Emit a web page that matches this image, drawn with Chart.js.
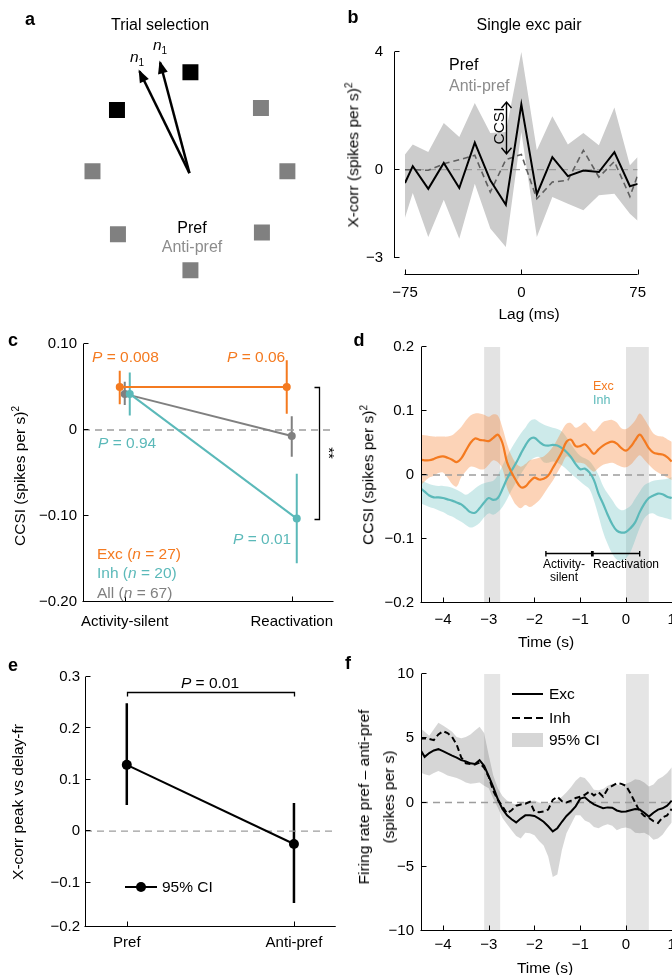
<!DOCTYPE html>
<html>
<head>
<meta charset="utf-8">
<title>CCSI figure</title>
<script src="https://cdn.jsdelivr.net/npm/chart.js@4.4.1/dist/chart.umd.min.js"></script>
<style>
  html, body { margin: 0; padding: 0; background: #fff; }
  body { position: relative; width: 672px; height: 975px; overflow: hidden;
         font-family: "Liberation Sans", Arial, Helvetica, sans-serif; color: #000; }
  canvas { position: absolute; }
  .t { position: absolute; white-space: nowrap; font-size: 15.5px; line-height: 1; }
  .t sup { font-size: 10px; vertical-align: 6px; line-height: 0; }
  .t sub { font-size: 10px; vertical-align: -4px; line-height: 0; }
  .lbl { font-weight: bold; font-size: 18px; }
  .k { position: absolute; }
</style>
</head>
<body>
<canvas id="pa"></canvas>
<canvas id="pb"></canvas>
<canvas id="pc"></canvas>
<canvas id="pd"></canvas>
<canvas id="pe"></canvas>
<canvas id="pf"></canvas>
<script>
// ---- a: targets on a circle, two arrows
const targetX = [0.01, 0.73, 1.0, 0.74, 0.01, -0.73, -0.99, -0.74];
const targetY = [1.04, 0.67, 0.02, -0.61, -1.0, -0.63, 0.02, 0.65];
const targetPref = [1, 0, 0, 0, 0, 0, 0, 1];
const arrowTipX = [-0.51, -0.30];
const arrowTipY = [1.05, 1.14];

// ---- b: single exc pair
const lagMs = [-75, -70, -60, -50, -40, -30, -20, -10, 0, 10, 20, 30, 40, 50, 60, 70, 75];
const prefXcorr = [-0.45, 0.12, -0.65, 0.23, -0.62, 0.92, -0.36, -1.19, 2.22, -0.84, 0.43, -0.22, -0.03, -0.08, 0.60, -0.56, -0.48];
const antiXcorr = [0, 0, -0.02, 0.20, 0.34, 0.49, -0.76, 0.34, 0.52, -0.99, -0.42, -0.36, 0.66, -0.25, 0.28, -0.91, -0.19];
const prefUpper = [0.52, 0.86, 0.60, 1.59, 1.11, 2.27, 1.25, 1.28, 4.0, 0.66, 1.82, 0.86, 1.25, 0.83, 2.11, 0.15, 0.43];
const prefLower = [-1.63, -0.79, -2.29, -1.02, -2.35, -0.48, -2.0, -2.63, 1.28, -2.29, -0.93, -1.16, -1.38, -0.87, -0.82, -1.5, -1.73];
const ccsiLag = -10, ccsiFrom = 0.54, ccsiTo = 2.30;
const bXTicks = [-75, 0, 75], bXLabels = ['−75', '0', '75'];
const bYTicks = [-3, 0, 4], bYLabels = ['−3', '0', '4'];

// ---- c: CCSI by epoch
const epochCats = ['Activity-silent', 'Reactivation'];
const excMean = [0.050, 0.050], excLo = [0.030, 0.019], excHi = [0.069, 0.081];
const inhMean = [0.042, -0.103], inhLo = [0.017, -0.155], inhHi = [0.067, -0.051];
const allMean = [0.042, -0.007], allLo = [0.029, -0.031], allHi = [0.056, 0.016];
const jitter = { exc: -0.03, all: 0, inh: 0.03 };
const starsX = 2.163, starsFrom = 0.050, starsTo = -0.103;
const cYTicks = [-0.2, -0.1, 0, 0.1], cYLabels = ['−0.20', '−0.10', '0', '0.10'];

// ---- d, f: time courses (s)
const timeS = [-4.5, -4.4, -4.3, -4.2, -4.1, -4.0, -3.9, -3.8, -3.7, -3.6,
  -3.5, -3.4, -3.3, -3.2, -3.1, -3.0, -2.9, -2.8, -2.7, -2.6,
  -2.5, -2.4, -2.3, -2.2, -2.1, -2.0, -1.9, -1.8, -1.7, -1.6,
  -1.5, -1.4, -1.3, -1.2, -1.1, -1.0, -0.9, -0.8, -0.7, -0.6,
  -0.5, -0.4, -0.3, -0.2, -0.1, 0.0, 0.1, 0.2, 0.3, 0.4,
  0.5, 0.6, 0.7, 0.8, 0.9, 1.0];
const excCcsi = [0.024, 0.023, 0.023, 0.025, 0.028, 0.029, 0.027, 0.024, 0.020, 0.026,
  0.038, 0.050, 0.057, 0.055, 0.054, 0.053, 0.058, 0.063, 0.050, 0.020,
  0.004, -0.009, -0.019, -0.018, -0.010, -0.004, -0.007, -0.006, -0.001, 0.011,
  0.023, 0.036, 0.052, 0.055, 0.045, 0.045, 0.048, 0.041, 0.033, 0.040,
  0.046, 0.050, 0.052, 0.049, 0.042, 0.038, 0.044, 0.054, 0.063, 0.054,
  0.042, 0.035, 0.033, 0.032, 0.028, 0.021];
const excCcsiHi = [0.063, 0.062, 0.061, 0.060, 0.060, 0.060, 0.060, 0.062, 0.068, 0.075,
  0.085, 0.093, 0.096, 0.096, 0.094, 0.091, 0.095, 0.093, 0.074, 0.049,
  0.030, 0.018, 0.013, 0.017, 0.023, 0.025, 0.027, 0.029, 0.035, 0.044,
  0.056, 0.069, 0.080, 0.081, 0.074, 0.077, 0.082, 0.075, 0.068, 0.075,
  0.083, 0.085, 0.086, 0.082, 0.073, 0.072, 0.077, 0.085, 0.096, 0.088,
  0.076, 0.065, 0.061, 0.060, 0.056, 0.052];
const excCcsiLo = [-0.017, -0.010, -0.004, -0.001, 0.003, 0.004, -0.004, -0.014, -0.018, -0.003,
  0.006, 0.013, 0.012, 0.009, 0.009, 0.016, 0.023, 0.020, 0.010, -0.020,
  -0.035, -0.047, -0.052, -0.047, -0.050, -0.046, -0.040, -0.030, -0.019, -0.009,
  0.004, 0.016, 0.029, 0.025, 0.020, 0.019, 0.017, 0.010, 0.005, 0.011,
  0.016, 0.018, 0.019, 0.016, 0.013, 0.012, 0.016, 0.024, 0.031, 0.024,
  0.016, 0.009, 0.004, 0.000, -0.004, -0.008];
const inhCcsi = [-0.020, -0.026, -0.032, -0.035, -0.035, -0.036, -0.038, -0.040, -0.043, -0.046,
  -0.052, -0.058, -0.059, -0.052, -0.043, -0.036, -0.039, -0.036, -0.022, -0.006,
  0.007, 0.019, 0.033, 0.046, 0.056, 0.058, 0.052, 0.047, 0.046, 0.047,
  0.046, 0.042, 0.036, 0.028, 0.017, 0.009, 0.010, 0.004, -0.008, -0.029,
  -0.045, -0.062, -0.077, -0.087, -0.090, -0.089, -0.083, -0.074, -0.058, -0.045,
  -0.036, -0.032, -0.029, -0.030, -0.034, -0.036];
const inhCcsiHi = [-0.008, -0.011, -0.014, -0.016, -0.017, -0.017, -0.018, -0.020, -0.023, -0.027,
  -0.031, -0.027, -0.021, -0.016, -0.013, -0.011, -0.009, 0.000, 0.015, 0.029,
  0.042, 0.054, 0.065, 0.074, 0.084, 0.087, 0.083, 0.079, 0.076, 0.074,
  0.072, 0.068, 0.059, 0.048, 0.038, 0.030, 0.026, 0.022, 0.013, 0.000,
  -0.017, -0.029, -0.039, -0.050, -0.055, -0.053, -0.048, -0.037, -0.026, -0.016,
  -0.012, -0.009, -0.008, -0.007, -0.006, -0.003];
const inhCcsiLo = [-0.044, -0.047, -0.050, -0.052, -0.055, -0.058, -0.062, -0.065, -0.069, -0.073,
  -0.078, -0.082, -0.080, -0.075, -0.066, -0.060, -0.062, -0.058, -0.050, -0.038,
  -0.024, -0.011, 0.001, 0.012, 0.022, 0.027, 0.028, 0.020, 0.019, 0.021,
  0.019, 0.015, 0.009, 0.002, -0.004, -0.010, -0.016, -0.022, -0.040, -0.064,
  -0.089, -0.108, -0.123, -0.132, -0.134, -0.130, -0.120, -0.102, -0.083, -0.068,
  -0.061, -0.060, -0.064, -0.066, -0.068, -0.070];
const epochStart = [-3.1, 0.0], epochEnd = [-2.75, 0.5];
const windowStart = [-1.75, -0.72], windowEnd = [-0.75, 0.30], windowY = -0.122;
const timeTicks = [-4, -3, -2, -1, 0, 1], timeLabels = ['−4', '−3', '−2', '−1', '0', '1'];
const dYTicks = [-0.2, -0.1, 0, 0.1, 0.2], dYLabels = ['−0.2', '−0.1', '0', '0.1', '0.2'];

const excRate = [4.15, 3.55, 3.85, 4.05, 4.15, 4.0, 3.82, 3.65, 3.5, 3.3,
  3.2, 3.05, 3.0, 3.3, 2.85, 2.05, 1.2, 0.25, -0.5, -1.0,
  -1.3, -1.55, -1.25, -1.0, -1.0, -1.05, -1.25, -1.5, -1.85, -2.25,
  -2.0, -1.5, -1.05, -0.7, -0.3, 0.3, 0.4, 0.1, -0.15, -0.3,
  -0.45, -0.38, -0.4, -0.62, -0.72, -0.7, -0.6, -0.5, -0.55, -0.8,
  -1.1, -0.8, -0.55, -0.45, -0.25, 0.15];
const inhRate = [4.95, 5.0, 4.95, 4.85, 5.3, 5.55, 5.4, 5.1, 4.5, 3.5,
  3.05, 3.0, 2.95, 3.1, 2.7, 2.0, 0.9, 0.2, -0.3, -0.85,
  -0.6, -0.25, -0.15, -0.1, 0.05, -0.7, -0.75, -0.7, -0.55, 0.2,
  0.45, 0.1, 0.0, 0.15, 0.35, 0.45, 0.6, 0.85, 0.55, 0.8,
  0.45, 1.05, 1.3, 1.5, 1.45, 1.3, 0.7, 0.0, -0.7, -1.05,
  -1.2, -1.45, -1.6, -1.15, -1.0, -0.5];
const rateCiHi = [5.8, 5.5, 5.2, 5.7, 6.2, 6.0, 5.75, 5.5, 5.1, 5.0,
  5.1, 5.3, 5.6, 5.9, 5.4, 3.7, 2.1, 1.1, 0.5, 0.15,
  -0.05, -0.15, -0.05, 0.05, 0.1, 0.15, 0.0, -0.05, -0.05, 0.05,
  0.2, 0.45, 0.8, 1.2, 1.7, 2.0, 1.9, 1.5, 1.0, 0.95,
  1.05, 1.3, 1.45, 1.4, 1.3, 1.45, 1.6, 1.8, 1.75, 1.55,
  1.25, 1.4, 1.8, 2.0, 2.3, 2.75];
const rateCiLo = [2.35, 2.2, 2.1, 2.3, 2.45, 2.3, 2.1, 2.0, 1.9, 1.75,
  1.55, 1.45, 1.5, 1.55, 1.3, 1.1, 0.3, -0.4, -1.2, -1.7,
  -2.15, -2.6, -2.8, -2.35, -2.4, -2.55, -3.0, -3.35, -4.2, -5.8,
  -5.6, -3.7, -2.4, -1.7, -1.0, -1.0, -1.4, -1.55, -1.9, -2.0,
  -1.8, -1.7, -1.8, -2.15, -2.0, -1.95, -2.05, -2.35, -2.4, -2.35,
  -2.55, -2.9, -2.8, -2.5, -2.0, -1.55];
const fYTicks = [-10, -5, 0, 5, 10], fYLabels = ['−10', '−5', '0', '5', '10'];

// ---- e: x-corr peak vs delay firing rate
const prefCats = ['Pref', 'Anti-pref'];
const peakMean = [0.129, -0.025], peakLo = [0.051, -0.140], peakHi = [0.249, 0.055];
const pBarY = 0.271, pBarDrop = 0.262;
const eYTicks = [-0.186, -0.1, 0, 0.1, 0.2, 0.3], eYLabels = ['−0.2', '−0.1', '0', '0.1', '0.2', '0.3'];

const ORANGE = '#f47a20', TEAL = '#5bb9b9', GREY = '#808080', PALE = '#8c8c8c', ZERO = '#9d9d9d';
const FONT = '"Liberation Sans", Arial, Helvetica, sans-serif';

Chart.defaults.font.family = FONT;
Chart.defaults.font.size = 15;
Chart.defaults.color = '#000';
Chart.defaults.animation = false;
Chart.defaults.responsive = false;
Chart.defaults.plugins.legend.display = false;
Chart.defaults.plugins.tooltip.enabled = false;

const xy = (xs, ys) => xs.map((x, i) => ({ x, y: ys[i] }));

// canvas box and wanted plot area, both in page pixels;
// the left and bottom margins are given to the scales so their labels are not clipped
function place(id, box, area) {
  const c = document.getElementById(id);
  c.width = box.w; c.height = box.h;
  c.style.left = box.x + 'px'; c.style.top = box.y + 'px';
  return {
    c,
    padding: { left: 0, bottom: 0, top: area.t - box.y, right: box.x + box.w - area.r },
    yw: area.l - box.x,
    xh: box.y + box.h - area.b
  };
}

function axis(min, max, ticks, labels, pad, isX, size) {
  return {
    type: 'linear', min, max,
    grid: { display: false, drawTicks: false }, border: { display: false },
    afterBuildTicks: s => { s.ticks = ticks.map(v => ({ value: v })); },
    afterFit: s => { if (isX) s.height = size; else s.width = size; },
    ticks: { padding: pad, autoSkip: false, maxRotation: 0, font: { size: 15 },
      callback: (v, i) => labels[i] }
  };
}

// MATLAB-like axes: lines with inward ticks, optionally offset from the data area
function axesPlugin(yOff, xOff) {
  return {
    id: 'axes',
    afterDraw(chart) {
      const { ctx, chartArea: a, scales: { x, y } } = chart;
      const ax = Math.round(a.left - yOff) + 0.5;
      const ay = Math.round(a.bottom + xOff) - 0.5;
      ctx.save();
      ctx.strokeStyle = '#000'; ctx.lineWidth = 1;
      ctx.beginPath();
      ctx.moveTo(ax, y.getPixelForValue(y.max)); ctx.lineTo(ax, Math.round(y.getPixelForValue(y.min)));
      ctx.moveTo(x.getPixelForValue(x.min) - 0.5, ay); ctx.lineTo(x.getPixelForValue(x.max), ay);
      y.ticks.forEach(t => {
        const py = Math.round(y.getPixelForValue(t.value)) - 0.5;
        ctx.moveTo(ax, py); ctx.lineTo(ax + 5, py);
      });
      x.ticks.forEach(t => {
        const px = Math.round(x.getPixelForValue(t.value)) + 0.5;
        ctx.moveTo(px, ay); ctx.lineTo(px, ay - 5);
      });
      ctx.stroke();
      ctx.restore();
    }
  };
}

function epochPlugin(color) {
  return {
    id: 'epochs',
    beforeDatasetsDraw(chart) {
      const { ctx, chartArea: a, scales: { x } } = chart;
      ctx.save(); ctx.fillStyle = color;
      epochStart.forEach((s, i) => {
        const x0 = x.getPixelForValue(s), x1 = x.getPixelForValue(epochEnd[i]);
        ctx.fillRect(x0, a.top, x1 - x0, a.bottom - a.top);
      });
      ctx.restore();
    }
  };
}

function errorBarPlugin(groups, width) {
  return {
    id: 'errorBars',
    beforeDatasetsDraw(chart) {
      const { ctx, scales: { x, y } } = chart;
      ctx.save(); ctx.lineWidth = width;
      groups.forEach(g => {
        ctx.strokeStyle = g.color; ctx.beginPath();
        g.x.forEach((xv, i) => {
          const px = x.getPixelForValue(xv);
          ctx.moveTo(px, y.getPixelForValue(g.lo[i])); ctx.lineTo(px, y.getPixelForValue(g.hi[i]));
        });
        ctx.stroke();
      });
      ctx.restore();
    }
  };
}

const lineDs = (data, color, width, extra) => Object.assign({
  data, borderColor: color, borderWidth: width, pointRadius: 0, fill: false, tension: 0
}, extra || {});

// ================= a =================
(function () {
  const { c } = place('pa', { x: 0, y: 0, w: 336, h: 300 }, { l: 0, t: 0, r: 336, b: 300 });
  const heads = {
    id: 'heads',
    afterDatasetsDraw(chart) {
      const { ctx, scales: { x, y } } = chart;
      ctx.save(); ctx.fillStyle = '#000';
      arrowTipX.forEach((tx, i) => {
        const x0 = x.getPixelForValue(0), y0 = y.getPixelForValue(0);
        const x1 = x.getPixelForValue(tx), y1 = y.getPixelForValue(arrowTipY[i]);
        const ang = Math.atan2(y1 - y0, x1 - x0), ca = Math.cos(ang), sa = Math.sin(ang);
        const px = x1 + 2 * ca, py = y1 + 2 * sa, L = 13, W = 5;
        ctx.beginPath();
        ctx.moveTo(px, py);
        ctx.lineTo(px - L * ca - W * sa, py - L * sa + W * ca);
        ctx.lineTo(px - L * ca + W * sa, py - L * sa - W * ca);
        ctx.closePath(); ctx.fill();
      });
      ctx.restore();
    }
  };
  new Chart(c, {
    type: 'scatter',
    data: { datasets: [
      { data: xy(targetX, targetY), pointStyle: 'rect', pointRadius: 11.3, borderWidth: 0,
        pointBackgroundColor: targetPref.map(p => p ? '#000' : GREY) },
      ...arrowTipX.map((tx, i) => lineDs([{ x: 0, y: 0 }, { x: tx, y: arrowTipY[i] }], '#000', 2.5, { showLine: true }))
    ] },
    options: { devicePixelRatio: 1, layout: { padding: 0 },
      scales: { x: { type: 'linear', display: false, min: -1.819, max: 1.381 },
                y: { type: 'linear', display: false, min: -1.19, max: 1.667 } } },
    plugins: [heads]
  });
})();

// ================= b =================
(function () {
  const p = place('pb', { x: 336, y: 0, w: 336, h: 320 }, { l: 405, t: 52, r: 654, b: 258 });
  const ccsiArrow = {
    id: 'ccsi',
    afterDatasetsDraw(chart) {
      const { ctx, scales: { x, y } } = chart;
      const px = Math.round(x.getPixelForValue(ccsiLag)) + 0.5;
      const y0 = y.getPixelForValue(ccsiTo), y1 = y.getPixelForValue(ccsiFrom);
      ctx.save(); ctx.strokeStyle = '#000'; ctx.lineWidth = 1.4;
      ctx.beginPath();
      ctx.moveTo(px, y0); ctx.lineTo(px, y1);
      ctx.moveTo(px - 5, y0 + 6); ctx.lineTo(px, y0); ctx.lineTo(px + 5, y0 + 6);
      ctx.moveTo(px - 5, y1 - 6); ctx.lineTo(px, y1); ctx.lineTo(px + 5, y1 - 6);
      ctx.stroke(); ctx.restore();
    }
  };
  new Chart(p.c, {
    type: 'line',
    data: { datasets: [
      lineDs(xy(lagMs, prefXcorr), '#000', 2, { order: 0 }),
      lineDs(xy(lagMs, antiXcorr), '#5f5f5f', 1.6, { order: 1, borderDash: [6, 4] }),
      lineDs(xy([bXTicks[0], bXTicks[bXTicks.length - 1]], [0, 0]), ZERO, 1.3, { order: 2, borderDash: [7, 5] }),
      lineDs(xy(lagMs, prefUpper), 'rgba(0,0,0,0)', 0, { order: 3, fill: '+1', backgroundColor: '#cccccc' }),
      lineDs(xy(lagMs, prefLower), 'rgba(0,0,0,0)', 0, { order: 4 })
    ] },
    options: { devicePixelRatio: 1, layout: { padding: p.padding },
      scales: { x: axis(-75, 75, bXTicks, bXLabels, 26, true, p.xh),
                y: axis(-3, 4, bYTicks, bYLabels, 22, false, p.yw) } },
    plugins: [axesPlugin(11, 17), ccsiArrow]
  });
})();

// ================= c =================
(function () {
  const p = place('pc', { x: 0, y: 300, w: 360, h: 340 }, { l: 83, t: 344, r: 333.5, b: 602 });
  const pos = epochCats.map((_, i) => i + 1);
  const excX = pos.map(v => v + jitter.exc), inhX = pos.map(v => v + jitter.inh), allX = pos.map(v => v + jitter.all);
  const bracket = {
    id: 'bracket',
    afterDatasetsDraw(chart) {
      const { ctx, scales: { x, y } } = chart;
      const px = Math.round(x.getPixelForValue(starsX)) + 0.5;
      const y0 = Math.round(y.getPixelForValue(starsFrom)) + 0.5, y1 = Math.round(y.getPixelForValue(starsTo)) + 0.5;
      ctx.save(); ctx.strokeStyle = '#000'; ctx.lineWidth = 1.3;
      ctx.beginPath();
      ctx.moveTo(px - 5, y0); ctx.lineTo(px, y0); ctx.lineTo(px, y1); ctx.lineTo(px - 5, y1);
      ctx.stroke(); ctx.restore();
    }
  };
  const pt = (color, r) => ({ pointRadius: r, pointBackgroundColor: color, pointBorderWidth: 0 });
  new Chart(p.c, {
    type: 'line',
    data: { datasets: [
      lineDs(xy(excX, excMean), ORANGE, 2, Object.assign({ order: 0 }, pt(ORANGE, 4))),
      lineDs(xy(inhX, inhMean), TEAL, 2, Object.assign({ order: 1 }, pt(TEAL, 4))),
      lineDs(xy(allX, allMean), GREY, 2, Object.assign({ order: 2 }, pt(GREY, 4))),
      lineDs(xy([0.75, 2.25], [0, 0]), ZERO, 1.3, { order: 3, borderDash: [7, 5] })
    ] },
    options: { devicePixelRatio: 1, layout: { padding: p.padding },
      scales: { x: axis(0.75, 2.25, pos, epochCats, 11, true, p.xh),
                y: axis(-0.2, 0.1, cYTicks, cYLabels, 6, false, p.yw) } },
    plugins: [axesPlugin(0, 0), bracket, errorBarPlugin([
      { x: excX, lo: excLo, hi: excHi, color: ORANGE },
      { x: allX, lo: allLo, hi: allHi, color: GREY },
      { x: inhX, lo: inhLo, hi: inhHi, color: TEAL }], 2)]
  });
})();

// ================= d =================
(function () {
  const p = place('pd', { x: 336, y: 300, w: 384, h: 345 }, { l: 421, t: 347, r: 694.6, b: 603 });
  const windows = {
    id: 'windows',
    afterDatasetsDraw(chart) {
      const { ctx, scales: { x, y } } = chart;
      const py = Math.round(y.getPixelForValue(windowY)) + 0.5;
      ctx.save(); ctx.strokeStyle = '#000'; ctx.lineWidth = 1.4;
      ctx.beginPath();
      windowStart.forEach((s, i) => {
        const x0 = x.getPixelForValue(s), x1 = x.getPixelForValue(windowEnd[i]);
        ctx.moveTo(x0, py); ctx.lineTo(x1, py);
        ctx.moveTo(x0, py - 2.5); ctx.lineTo(x0, py + 3);
        ctx.moveTo(x1, py - 2.5); ctx.lineTo(x1, py + 3);
      });
      ctx.stroke(); ctx.restore();
    }
  };
  const smooth = { tension: 0.35 };
  new Chart(p.c, {
    type: 'line',
    data: { datasets: [
      lineDs(xy(timeS, excCcsi), ORANGE, 2.2, Object.assign({ order: 0 }, smooth)),
      lineDs(xy(timeS, inhCcsi), TEAL, 2.2, Object.assign({ order: 1 }, smooth)),
      lineDs(xy([-4.48, 1.5], [0, 0]), ZERO, 1.3, { order: 2, borderDash: [7, 5] }),
      lineDs(xy(timeS, excCcsiHi), 'rgba(0,0,0,0)', 0, Object.assign({ order: 3, fill: '+1', backgroundColor: 'rgba(245,130,50,0.35)' }, smooth)),
      lineDs(xy(timeS, excCcsiLo), 'rgba(0,0,0,0)', 0, Object.assign({ order: 4 }, smooth)),
      lineDs(xy(timeS, inhCcsiHi), 'rgba(0,0,0,0)', 0, Object.assign({ order: 5, fill: '+1', backgroundColor: 'rgba(91,185,185,0.3)' }, smooth)),
      lineDs(xy(timeS, inhCcsiLo), 'rgba(0,0,0,0)', 0, Object.assign({ order: 6 }, smooth))
    ] },
    options: { devicePixelRatio: 1, layout: { padding: p.padding },
      scales: { x: axis(-4.48, 1.5, timeTicks, timeLabels, 8, true, p.xh),
                y: axis(-0.2, 0.2, dYTicks, dYLabels, 7, false, p.yw) } },
    plugins: [epochPlugin('rgba(0,0,0,0.11)'), axesPlugin(0, 0), windows]
  });
})();

// ================= e =================
(function () {
  const p = place('pe', { x: 0, y: 640, w: 360, h: 335 }, { l: 85, t: 677, r: 335.75, b: 926.7 });
  const pos = prefCats.map((_, i) => i + 1);
  const pBracket = {
    id: 'pBracket',
    afterDatasetsDraw(chart) {
      const { ctx, scales: { x, y } } = chart;
      const x0 = Math.round(x.getPixelForValue(pos[0])) + 0.5, x1 = Math.round(x.getPixelForValue(pos[1])) + 0.5;
      const py = Math.round(y.getPixelForValue(pBarY)) + 0.5, pd = y.getPixelForValue(pBarDrop);
      ctx.save(); ctx.strokeStyle = '#000'; ctx.lineWidth = 1.3;
      ctx.beginPath();
      ctx.moveTo(x0, pd); ctx.lineTo(x0, py); ctx.lineTo(x1, py); ctx.lineTo(x1, pd);
      ctx.stroke(); ctx.restore();
    }
  };
  new Chart(p.c, {
    type: 'line',
    data: { datasets: [
      lineDs(xy(pos, peakMean), '#000', 2, { order: 0, pointRadius: 5, pointBackgroundColor: '#000', pointBorderWidth: 0 }),
      lineDs(xy([0.75, 2.25], [0, 0]), ZERO, 1.3, { order: 1, borderDash: [7, 5] })
    ] },
    options: { devicePixelRatio: 1, layout: { padding: p.padding },
      scales: { x: axis(0.75, 2.25, pos, prefCats, 7, true, p.xh),
                y: axis(-0.186, 0.3, eYTicks, eYLabels, 5, false, p.yw) } },
    plugins: [axesPlugin(0, 0), pBracket, errorBarPlugin([{ x: pos, lo: peakLo, hi: peakHi, color: '#000' }], 2.5)]
  });
})();

// ================= f =================
(function () {
  const p = place('pf', { x: 336, y: 645, w: 384, h: 330 }, { l: 421, t: 674, r: 694.6, b: 931 });
  new Chart(p.c, {
    type: 'line',
    data: { datasets: [
      lineDs(xy(timeS, excRate), '#000', 2, { order: 0 }),
      lineDs(xy(timeS, inhRate), '#000', 2, { order: 1, borderDash: [6, 3.5] }),
      lineDs(xy([-4.48, 1.5], [0, 0]), ZERO, 1.3, { order: 2, borderDash: [7, 5] }),
      lineDs(xy(timeS, rateCiHi), 'rgba(0,0,0,0)', 0, { order: 3, fill: '+1', backgroundColor: 'rgba(0,0,0,0.16)' }),
      lineDs(xy(timeS, rateCiLo), 'rgba(0,0,0,0)', 0, { order: 4 })
    ] },
    options: { devicePixelRatio: 1, layout: { padding: p.padding },
      scales: { x: axis(-4.48, 1.5, timeTicks, timeLabels, 5, true, p.xh),
                y: axis(-10, 10, fYTicks, fYLabels, 7, false, p.yw) } },
    plugins: [epochPlugin('rgba(0,0,0,0.1)'), axesPlugin(0, 0)]
  });
})();

// ================= text =================
function text(html, x, y, o) {
  o = o || {};
  const d = document.createElement('div');
  d.className = 't' + (o.cls ? ' ' + o.cls : '');
  d.innerHTML = html;
  d.style.left = x + 'px'; d.style.top = y + 'px';
  if (o.color) d.style.color = o.color;
  if (o.size) d.style.fontSize = o.size + 'px';
  if (o.lh) { d.style.lineHeight = o.lh + 'px'; d.style.textAlign = 'center'; }
  const tx = o.align === 'l' ? '0' : '-50%';
  d.style.transform = 'translate(' + tx + ',-50%)' + (o.rot ? ' rotate(' + o.rot + 'deg)' : '');
  document.body.appendChild(d);
}
function swatch(x, y, w, h, css) {
  const d = document.createElement('div');
  d.className = 'k';
  d.style.cssText = 'left:' + x + 'px;top:' + y + 'px;width:' + w + 'px;height:' + h + 'px;' + css;
  document.body.appendChild(d);
}

// a
text('a', 30, 19, { cls: 'lbl' });
text('Trial selection', 160, 25, { size: 16 });
text('<i>n</i><sub>1</sub>', 137, 57);
text('<i>n</i><sub>1</sub>', 160, 45);
text('Pref', 192, 228, { size: 16 });
text('Anti-pref', 192, 247, { size: 16, color: PALE });
// b
text('b', 353, 17, { cls: 'lbl' });
text('Single exc pair', 529, 25, { size: 16 });
text('Pref', 449, 65, { align: 'l', size: 16 });
text('Anti-pref', 449, 86, { align: 'l', size: 16, color: PALE });
text('CCSI', 499, 126, { rot: -90 });
text('X-corr (spikes per s)<sup>2</sup>', 353, 155, { rot: -90 });
text('Lag (ms)', 529, 314);
// c
text('c', 13, 340, { cls: 'lbl' });
text('CCSI (spikes per s)<sup>2</sup>', 20, 476, { rot: -90 });
text('<i>P</i> = 0.008', 92, 357, { align: 'l', color: ORANGE });
text('<i>P</i> = 0.06', 227, 357, { align: 'l', color: ORANGE });
text('<i>P</i> = 0.94', 98, 443, { align: 'l', color: TEAL });
text('<i>P</i> = 0.01', 233, 539, { align: 'l', color: TEAL });
text('Exc (<i>n</i> = 27)', 97, 554, { align: 'l', color: ORANGE });
text('Inh (<i>n</i> = 20)', 97, 573, { align: 'l', color: TEAL });
text('All (<i>n</i> = 67)', 97, 593, { align: 'l', color: GREY });
text('**', 329, 453, { rot: 90, size: 15 });
// d
text('d', 359, 340, { cls: 'lbl' });
text('CCSI (spikes per s)<sup>2</sup>', 368, 475, { rot: -90 });
text('Exc', 593, 386, { align: 'l', size: 12.5, color: ORANGE });
text('Inh', 593, 400, { align: 'l', size: 12.5, color: TEAL });
text('Activity-', 564, 564, { size: 12 });
text('silent', 564, 577, { size: 12 });
text('Reactivation', 593, 564, { align: 'l', size: 12 });
text('Time (s)', 546, 642);
// e
text('e', 13, 665, { cls: 'lbl' });
text('X-corr peak vs delay-fr', 18, 802, { rot: -90 });
text('<i>P</i> = 0.01', 210, 683);
swatch(125, 886, 32, 2, 'background:#000;');
swatch(136, 882, 10, 10, 'background:#000;border-radius:50%;');
text('95% CI', 162, 887, { align: 'l' });
// f
text('f', 348, 663, { cls: 'lbl' });
text('Firing rate pref – anti-pref<br>(spikes per s)', 376, 797, { rot: -90, lh: 25 });
swatch(512, 693, 31, 2.4, 'background:#000;');
swatch(512, 717, 31, 2.4, 'background:repeating-linear-gradient(90deg,#000 0 8px,transparent 8px 12px);');
swatch(512, 733, 31, 14, 'background:#d6d6d6;');
text('Exc', 549, 694, { align: 'l' });
text('Inh', 549, 718, { align: 'l' });
text('95% CI', 549, 740, { align: 'l' });
text('Time (s)', 545, 968);
</script>
</body>
</html>
